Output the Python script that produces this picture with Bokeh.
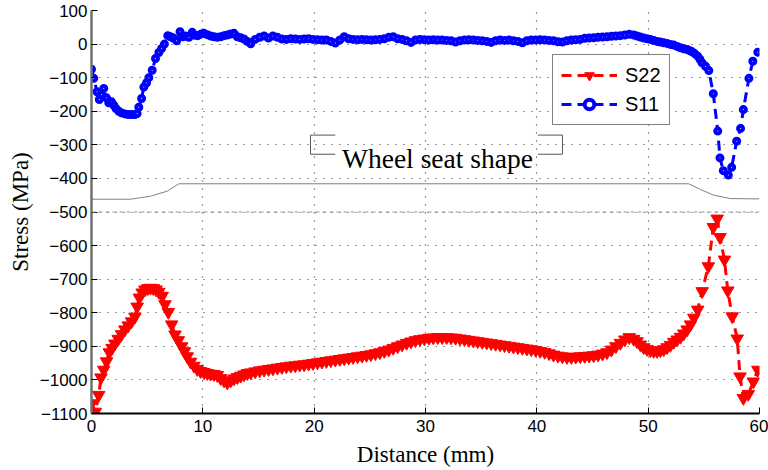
from bokeh.plotting import figure
from bokeh.models import FixedTicker, Legend, LegendItem, Label, Span
from bokeh.embed import file_html
from bokeh.resources import INLINE

# ---- data ----
s22_x = [0.0, 0.35, 0.65, 0.85, 1.1, 1.35, 1.6, 1.85, 2.1, 2.4, 2.7, 3.0, 3.3, 3.6, 3.9,
         4.1, 4.3, 4.55, 4.8, 5.05, 5.3, 5.55, 5.8, 6.05, 6.35, 6.6, 6.9, 7.2, 7.5, 7.8,
         8.1, 8.35, 8.6, 8.9, 9.2, 9.5, 9.8, 10.1, 10.4, 10.7, 11.0, 11.3, 11.6, 11.9,
         12.2, 12.5, 12.8, 13.1, 13.4, 13.7, 14.0, 14.3, 14.7, 15.1, 15.5, 15.9, 16.3,
         16.7, 17.1, 17.5, 17.9, 18.3, 18.7, 19.1, 19.5, 19.9, 20.3, 20.7, 21.1, 21.5,
         21.9, 22.3, 22.7, 23.1, 23.5, 23.9, 24.3, 24.7, 25.1, 25.5, 25.9, 26.3, 26.7,
         27.1, 27.5, 27.9, 28.3, 28.7, 29.1, 29.5, 29.9, 30.3, 30.7, 31.1, 31.5, 31.9,
         32.3, 32.7, 33.1, 33.5, 33.9, 34.3, 34.7, 35.1, 35.5, 35.9, 36.3, 36.7, 37.1,
         37.5, 37.9, 38.3, 38.7, 39.1, 39.5, 39.9, 40.3, 40.7, 41.1, 41.5, 41.9, 42.3,
         42.7, 43.1, 43.5, 43.9, 44.3, 44.7, 45.1, 45.5, 45.9, 46.3, 46.7, 47.1, 47.5,
         47.9, 48.3, 48.7, 49.0, 49.3, 49.6, 49.9, 50.2, 50.5, 50.8, 51.1, 51.4, 51.7,
         52.0, 52.3, 52.6, 52.9, 53.2, 53.5, 53.8, 54.1, 54.45, 54.85, 55.4, 55.85, 56.2,
         56.45, 56.85, 57.15, 57.55, 58.0, 58.25, 58.55, 59.0, 59.45, 59.85]
s22_y = [-1070, -1095, -1045, -993, -970, -945, -918, -905, -892, -878, -864, -850, -838, -826, -812,
         -782, -755, -740, -731, -727, -726, -727, -731, -738, -750, -775, -798, -835, -865, -882,
         -900, -915, -930, -946, -958, -968, -974, -977, -980, -982, -983, -986, -995, -1002,
         -1008, -1002, -996, -992, -988, -984, -980, -978, -975, -972, -970, -968, -966,
         -964, -962, -960, -958, -957, -955, -954, -952, -950, -948, -946, -944, -942,
         -940, -938, -936, -934, -932, -930, -928, -926, -924, -921, -918, -914, -910,
         -905, -900, -895, -890, -886, -882, -879, -877, -875, -874, -873, -873, -873,
         -874, -875, -877, -879, -881, -883, -885, -887, -889, -891, -893, -895, -897,
         -899, -901, -903, -905, -907, -909, -911, -914, -917, -921, -925, -928, -930,
         -932, -932, -931, -930, -929, -928, -927, -925, -922, -918, -910, -900, -890,
         -880, -873, -878, -885, -895, -903, -908, -912, -914, -914, -912, -909, -903,
         -896, -887, -880, -872, -862, -850, -835, -815, -791, -736, -662, -545, -520,
         -575, -642, -734, -811, -877, -990, -1054, -1042, -1005, -970]

s11_x = [0.0, 0.2, 0.5, 0.7, 0.9, 1.1, 1.35, 1.55, 1.8, 2.0, 2.2, 2.45, 2.7, 3.0, 3.3,
         3.6, 3.9, 4.1, 4.25, 4.5, 4.7, 4.95, 5.15, 5.45, 5.75, 6.05, 6.3, 6.55, 6.85,
         7.1, 7.35, 7.65, 7.95, 8.2, 8.45, 8.75, 9.05, 9.3, 9.55, 9.85, 10.1, 10.4, 10.7,
         11.0, 11.3, 11.6, 11.9, 12.2, 12.5, 12.8, 13.1, 13.4, 13.7, 14.0, 14.3, 14.7,
         15.1, 15.5, 15.9, 16.3, 16.7, 17.1, 17.5, 17.9, 18.3, 18.7, 19.1, 19.5, 19.9,
         20.3, 20.7, 21.1, 21.5, 21.9, 22.3, 22.7, 23.1, 23.5, 23.9, 24.3, 24.7, 25.1,
         25.5, 25.9, 26.3, 26.7, 27.1, 27.5, 27.9, 28.3, 28.7, 29.1, 29.5, 29.9, 30.3,
         30.7, 31.1, 31.5, 31.9, 32.3, 32.7, 33.1, 33.5, 33.9, 34.3, 34.7, 35.1, 35.5,
         35.9, 36.3, 36.7, 37.1, 37.5, 37.9, 38.3, 38.7, 39.1, 39.5, 39.9, 40.3, 40.7,
         41.1, 41.5, 41.9, 42.3, 42.7, 43.1, 43.5, 43.9, 44.3, 44.7, 45.1, 45.5, 45.9,
         46.3, 46.7, 47.1, 47.5, 47.9, 48.3, 48.7, 49.0, 49.3, 49.6, 49.9, 50.2, 50.5,
         50.8, 51.1, 51.4, 51.7, 52.0, 52.3, 52.6, 52.9, 53.2, 53.5, 53.75, 53.95, 54.2,
         54.45, 54.65, 54.85, 55.15, 55.45, 55.85, 56.25, 56.45, 56.75, 57.2, 57.5,
         57.95, 58.3, 58.55, 59.05, 59.4, 59.85]
s11_y = [-75, -102, -142, -165, -150, -132, -160, -175, -172, -182, -192, -200, -205, -208, -210,
         -210, -210, -207, -188, -162, -128, -115, -100, -78, -43, -25, -13, 0, 25,
         22, 18, 10, 37, 22, 24, 20, 35, 26, 25, 30, 32, 28, 24,
         22, 20, 22, 25, 27, 30, 32, 22, 19, 15, 8, 1, 14,
         20, 24, 18, 24, 20, 15, 14, 16, 15, 14, 15, 16, 14,
         13, 12, 12, 8, 3, 12, 22, 16, 14, 13, 14, 13, 12,
         13, 14, 16, 20, 22, 16, 14, 10, 5, 12, 14, 13, 12,
         13, 12, 12, 11, 10, 6, 10, 12, 13, 12, 11, 10, 8,
         5, 10, 12, 11, 12, 10, 8, 4, 10, 12, 12, 13, 12,
         11, 10, 7, 6, 10, 12, 13, 14, 17, 18, 19, 20, 21,
         22, 23, 24, 25, 27, 29, 27, 24, 21, 18, 16, 14, 11,
         8, 6, 4, 2, -1, -3, -7, -11, -14, -16, -20, -23, -29,
         -36, -45, -56, -66, -79, -148, -259, -339, -377, -390, -367,
         -289, -251, -195, -102, -51, -24]

seat_x = [0.0, 3.5, 5.3, 6.8, 7.85, 53.65, 54.7, 55.9, 57.4, 60.0]
seat_y = [-462, -462, -453, -438, -416, -416, -433, -450, -460, -461]

x_ticks = [0, 10, 20, 30, 40, 50, 60]
y_ticks = [100, 0, -100, -200, -300, -400, -500, -600, -700, -800, -900, -1000, -1100]

# ---- figure ----
p = figure(width=768, height=470, x_range=(0, 60), y_range=(-1100, 100),
           output_backend="svg", toolbar_location=None,
           min_border_left=91, min_border_right=9, min_border_top=10, min_border_bottom=57)
p.outline_line_color = None
p.background_fill_color = "white"

for g in (p.xgrid, p.ygrid):
    g.grid_line_color = "#333333"
    g.grid_line_dash = "1 7"
    g.grid_line_width = 1.2

p.xaxis.ticker = FixedTicker(ticks=x_ticks)
p.yaxis.ticker = FixedTicker(ticks=y_ticks)
for ax in (p.xaxis[0], p.yaxis[0]):
    ax.major_tick_in = 6
    ax.major_tick_out = 0
    ax.minor_tick_in = 0
    ax.minor_tick_out = 0
    ax.major_label_text_font = "Liberation Sans"
    ax.major_label_text_font_size = "17px"
    ax.major_label_text_color = "black"
    ax.axis_label_text_font = "Liberation Serif"
    ax.axis_label_text_font_size = "23px"
    ax.axis_label_text_font_style = "normal"
    ax.axis_label_text_color = "black"
    ax.major_tick_line_color = "black"

p.xaxis.axis_label = "Distance (mm)"
p.yaxis.axis_label = "Stress (MPa)"
p.xaxis.axis_line_color = "black"
p.xaxis.axis_line_width = 2
p.yaxis.axis_line_color = "#707070"
p.yaxis.axis_line_width = 2.5
p.xaxis.major_label_standoff = 6
p.xaxis.axis_label_standoff = 7
p.yaxis.major_label_standoff = 4
p.yaxis.axis_label_standoff = 4

# dashed separator and wheel seat shape
p.add_layout(Span(location=-500, dimension="width", line_color="#9a9a9a",
                  line_dash="4 3", line_width=1))
p.line(seat_x, seat_y, line_color="#808080", line_width=1)
p.multi_line(xs=[[21.9, 19.67, 19.67, 21.9], [40.1, 42.3, 42.3, 40.1]],
             ys=[[-271, -271, -328, -328], [-271, -271, -328, -328]],
             line_color="#555555", line_width=1)
p.add_layout(Label(x=22.5, y=-340, text="Wheel seat shape", text_font="Liberation Serif",
                   text_font_size="27.5px", text_baseline="alphabetic", text_color="black"))

# series
r22l = p.line(s22_x, s22_y, line_color="#ff0000", line_width=3, line_dash="10 6")
r22m = p.scatter(s22_x, s22_y, marker="inverted_triangle", size=12.5,
                 fill_color="#ff0000", line_color="#ff0000")
r11l = p.line(s11_x, s11_y, line_color="#0000ff", line_width=3, line_dash="10 6")
r11m = p.scatter(s11_x, s11_y, marker="circle", size=5, fill_color="white",
                 line_color="#0000ff", line_width=4)

legend = Legend(items=[LegendItem(label="S22", renderers=[r22l, r22m]),
                       LegendItem(label="S11", renderers=[r11l, r11m])],
                location=(461, 288), orientation="vertical")
legend.label_text_font = "Liberation Sans"
legend.label_text_font_size = "20px"
legend.label_text_color = "black"
legend.border_line_color = "black"
legend.border_line_width = 1
legend.background_fill_alpha = 1
legend.padding = 8
legend.spacing = 5
legend.margin = 0
legend.glyph_width = 56
legend.glyph_height = 24
legend.label_height = 24
legend.label_standoff = 8
p.add_layout(legend)

open("out.html", "w").write(file_html(p, INLINE))
